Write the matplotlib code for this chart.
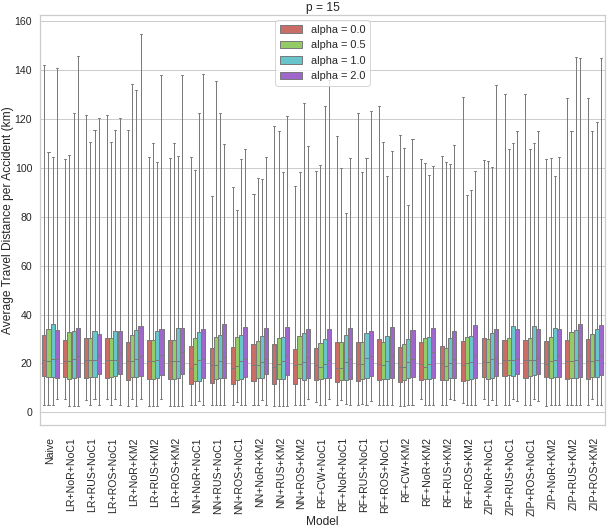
import numpy as np
import matplotlib
matplotlib.use("Agg")
import matplotlib.pyplot as plt
from matplotlib.patches import Patch
import seaborn as sns

# categories and hue levels
models = ["Naive", "LR+NoR+NoC1", "LR+RUS+NoC1", "LR+ROS+NoC1", "LR+NoR+KM2",
          "LR+RUS+KM2", "LR+ROS+KM2", "NN+NoR+NoC1", "NN+RUS+NoC1", "NN+ROS+NoC1",
          "NN+NoR+KM2", "NN+RUS+KM2", "NN+ROS+KM2", "RF+CW+NoC1", "RF+NoR+NoC1",
          "RF+RUS+NoC1", "RF+ROS+NoC1", "RF+CW+KM2", "RF+NoR+KM2", "RF+RUS+KM2",
          "RF+ROS+KM2", "ZIP+NoR+NoC1", "ZIP+RUS+NoC1", "ZIP+ROS+NoC1", "ZIP+NoR+KM2",
          "ZIP+RUS+KM2", "ZIP+ROS+KM2"]
alphas = ["0.0", "0.5", "1.0", "2.0"]

# box stats per model, one value per alpha
q3 = [[31.6, 34.1, 36.2, 33.7], [29.7, 32.7, 33.2, 34.4], [30.5, 30.5, 33.3, 32.2],
      [30.6, 30.2, 33.3, 33.3], [28.8, 31.7, 33.7, 35.5], [29.4, 29.4, 33.1, 34.1],
      [29.4, 29.4, 34.4, 34.6], [27.3, 30.2, 32.9, 33.9], [26.4, 30.7, 31.7, 36.3],
      [26.8, 30.9, 31.7, 34.7], [27.9, 29.0, 31.3, 34.4], [27.9, 30.6, 31.0, 35.0],
      [26.1, 31.3, 32.4, 34.1], [26.5, 28.2, 29.8, 33.9], [28.8, 28.6, 31.6, 34.4],
      [28.6, 28.8, 32.4, 33.1], [29.8, 28.8, 31.3, 35.0], [26.9, 28.0, 30.1, 33.6],
      [28.6, 30.3, 30.9, 34.4], [27.1, 26.4, 30.3, 33.3], [29.3, 30.9, 31.2, 35.8],
      [30.5, 29.9, 32.4, 34.1], [29.7, 30.6, 35.4, 34.0], [29.7, 30.6, 35.2, 34.0],
      [29.3, 30.9, 34.4, 33.9], [29.7, 32.7, 33.7, 36.2], [30.1, 32.2, 34.0, 35.6]]
q1 = [[14.8, 14.3, 14.6, 13.9], [14.3, 13.5, 13.9, 14.3], [14.0, 14.6, 14.6, 15.6],
      [13.9, 14.6, 14.8, 15.6], [13.3, 14.3, 14.4, 14.8], [13.5, 13.5, 13.9, 15.1],
      [13.6, 13.6, 14.1, 15.8], [11.4, 12.7, 12.9, 13.9], [12.1, 13.6, 13.9, 14.1],
      [11.4, 13.2, 13.7, 14.4], [12.8, 14.0, 14.0, 15.6], [11.6, 13.6, 13.6, 15.2],
      [11.6, 13.9, 13.3, 14.1], [13.1, 13.5, 14.0, 14.0], [12.2, 13.1, 13.2, 13.6],
      [12.9, 13.6, 14.1, 14.7], [13.1, 13.5, 13.7, 14.0], [12.5, 13.2, 13.9, 14.6],
      [13.2, 13.5, 13.7, 14.0], [13.2, 13.1, 14.1, 14.1], [12.7, 13.3, 13.6, 14.1],
      [14.3, 13.7, 14.1, 14.8], [14.7, 15.1, 15.0, 15.5], [14.1, 15.0, 15.2, 15.5],
      [14.3, 13.9, 14.6, 14.6], [13.6, 14.1, 14.1, 14.6], [13.6, 14.4, 14.4, 15.2]]
med = [[21.5, 20.8, 21.8, 21.8], [21.1, 21.1, 21.9, 23.1], [21.4, 21.4, 21.4, 23.1],
       [21.5, 21.2, 21.2, 24.1], [20.8, 21.1, 21.8, 23.0], [21.1, 21.1, 21.4, 23.5],
       [21.0, 21.0, 21.1, 24.6], [18.0, 19.9, 21.4, 21.9], [19.2, 19.2, 21.1, 22.7],
       [18.2, 18.8, 21.1, 21.9], [19.5, 19.5, 20.5, 22.0], [18.6, 19.6, 20.8, 23.0],
       [19.2, 19.9, 20.4, 22.6], [19.2, 18.6, 19.9, 21.6], [18.2, 18.2, 20.7, 21.8],
       [19.7, 19.7, 22.2, 23.0], [19.7, 19.2, 20.8, 23.3], [18.5, 18.4, 20.7, 21.9],
       [19.7, 18.4, 19.7, 24.8], [20.0, 19.0, 20.0, 21.8], [19.2, 20.0, 20.4, 22.9],
       [20.5, 20.5, 22.0, 22.4], [21.6, 21.2, 21.4, 22.0], [21.6, 21.6, 21.6, 22.4],
       [19.7, 21.1, 21.6, 23.5], [20.8, 20.8, 21.5, 23.5], [21.1, 21.1, 21.6, 23.5]]
whis_hi = [[142.2, 106.4, 104.5, 140.7], [103.7, 105.4, 122.3, 146.0], [121.5, 110.7, 115.6, 120.4],
           [121.5, 110.7, 115.6, 120.4], [115.4, 134.2, 132.0, 155.0], [104.4, 110.3, 102.3, 138.2],
           [104.0, 110.2, 104.8, 138.2], [104.4, 99.0, 122.3, 138.6], [88.7, 135.7, 122.6, 109.9],
           [92.1, 82.6, 103.7, 107.6], [89.4, 95.8, 95.4, 104.5], [117.0, 115.2, 98.4, 121.2],
           [92.6, 98.3, 126.4, 109.1], [98.9, 101.2, 125.3, 136.0], [112.9, 99.9, 81.4, 104.0],
           [122.3, 98.3, 104.1, 123.3], [125.2, 110.5, 96.6, 106.8], [113.6, 108.3, 84.9, 112.0],
           [103.5, 102.0, 97.0, 100.7], [104.9, 102.3, 101.5, 109.4], [129.0, 89.1, 90.9, 98.8],
           [103.3, 102.7, 100.4, 134.0], [130.1, 107.8, 110.2, 115.2], [130.1, 107.6, 110.2, 115.2],
           [103.7, 104.0, 96.6, 104.6], [128.6, 115.0, 145.2, 144.8], [128.6, 115.0, 118.7, 144.8]]
whis_lo = [[2.9, 2.9, 2.9, 5.4], [5.4, 2.4, 2.4, 2.4], [5.2, 2.9, 5.4, 2.9],
           [5.4, 2.9, 5.4, 2.9], [2.4, 5.4, 2.4, 5.4], [2.4, 2.4, 2.4, 5.4],
           [2.4, 2.4, 2.4, 2.4], [2.9, 2.9, 4.5, 2.9], [2.9, 2.9, 2.9, 2.9],
           [2.9, 4.2, 2.9, 2.9], [2.9, 2.9, 5.2, 2.9], [2.4, 2.4, 2.4, 2.4],
           [2.9, 2.9, 2.9, 5.4], [4.2, 2.9, 2.9, 5.4], [2.9, 5.2, 3.5, 2.9],
           [2.9, 3.5, 2.9, 4.5], [2.9, 2.9, 2.9, 2.9], [2.4, 2.4, 2.9, 2.9],
           [5.4, 2.9, 2.9, 2.9], [2.9, 2.9, 5.4, 5.2], [3.9, 2.9, 2.9, 2.9],
           [5.4, 2.9, 5.2, 2.9], [2.9, 2.9, 5.4, 4.8], [2.9, 2.9, 5.4, 4.5],
           [2.4, 2.9, 2.9, 2.9], [2.9, 2.9, 2.9, 2.9], [2.9, 5.4, 2.9, 2.9]]

sns.set_theme(style="whitegrid")
plt.rcParams["font.family"] = ["Liberation Sans", "DejaVu Sans"]

colors = [sns.desaturate(c, 0.75) for c in sns.color_palette("hls", len(alphas))]
gray = "#7a7a7a"

fig = plt.figure(figsize=(608 / 72, 532 / 72), dpi=72)
ax = fig.add_subplot(111)
fig.subplots_adjust(left=0.066, right=0.995, bottom=0.201, top=0.972)

n_hue = len(alphas)
box_w = 0.8 / n_hue
for j in range(n_hue):
    stats = []
    for i in range(len(models)):
        stats.append(dict(med=med[i][j], q1=q1[i][j], q3=q3[i][j],
                          whislo=whis_lo[i][j], whishi=whis_hi[i][j], fliers=[]))
    pos = np.arange(len(models)) - 0.4 + box_w * (j + 0.5)
    ax.bxp(stats, positions=pos, widths=box_w * 0.98, patch_artist=True,
           showfliers=False, manage_ticks=False,
           boxprops=dict(facecolor=colors[j], edgecolor=gray, linewidth=1.0),
           medianprops=dict(color=gray, linewidth=1.0),
           whiskerprops=dict(color=gray, linewidth=1.0),
           capprops=dict(color=gray, linewidth=1.0))

ax.set_xticks(np.arange(len(models)))
ax.set_xticklabels(models, rotation=90, fontsize=10.5)
ax.set_xlim(-0.5, len(models) - 0.5)
ax.set_yticks(np.arange(0, 161, 20))
ax.tick_params(axis="y", labelsize=10.5, pad=2)
ax.tick_params(axis="x", pad=6)
ax.xaxis.grid(False)
ax.set_xlabel("Model", fontsize=12)
ax.set_ylabel("Average Travel Distance per Accident (km)", fontsize=12)
ax.xaxis.set_label_coords(0.5, -0.222)
ax.yaxis.set_label_coords(-0.047, 0.5)
ax.set_title("p = 15", fontsize=12, pad=4)

handles = [Patch(facecolor=c, edgecolor=gray, linewidth=1.0) for c in colors]
ax.legend(handles, ["alpha = " + a for a in alphas], loc="upper center", fontsize=11)

fig.savefig("out.png", dpi=72)
